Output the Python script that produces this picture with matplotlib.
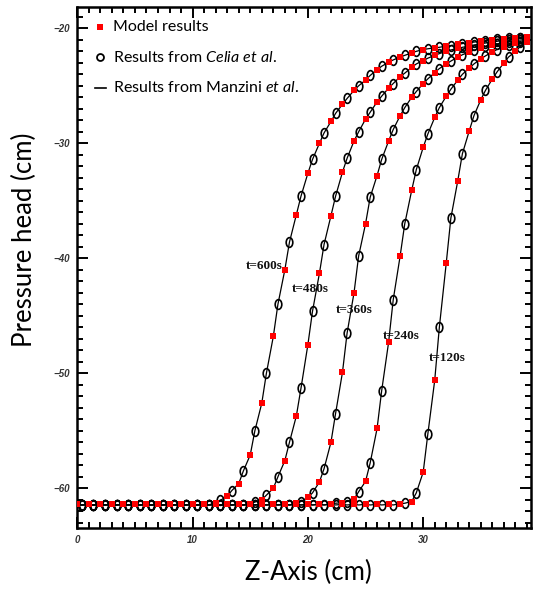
import matplotlib
matplotlib.use("Agg")
import matplotlib.pyplot as plt
import numpy as np
from matplotlib.path import Path

plt.rcParams['mathtext.fontset'] = 'custom'
plt.rcParams['mathtext.rm'] = 'Lato'
plt.rcParams['mathtext.it'] = 'Lato:italic'

# ---------------- data ----------------
z_model = list(range(40))                       # model result positions (cm)
z_celia = [i + 0.4 for i in range(39)]          # Celia et al. positions (cm)

times = ["t=600s", "t=480s", "t=360s", "t=240s", "t=120s"]

model_600 = [-61.4] * 12 + [-61.25, -60.7, -59.6, -57.1, -52.6, -46.8, -41.0, -36.2, -32.6, -30.0,
                            -28.1, -26.6, -25.4, -24.5, -23.6, -22.95, -22.5, -22.15, -21.85, -21.7,
                            -21.55, -21.4, -21.25, -21.12, -21.0, -20.9, -20.82, -20.75]
celia_600 = [-61.45] * 12 + [-61.05, -60.2, -58.5, -55.0, -50.0, -44.0, -38.6, -34.6, -31.4, -29.1,
                             -27.4, -26.1, -25.0, -24.1, -23.3, -22.75, -22.35, -22.0, -21.78, -21.65,
                             -21.5, -21.33, -21.2, -21.07, -20.95, -20.87, -20.8]

model_480 = [-61.4] * 15 + [-61.35, -61.0, -60.0, -57.6, -53.7, -47.5, -41.3, -36.3, -32.5, -29.8,
                            -27.9, -26.4, -25.2, -24.2, -23.4, -22.8, -22.35, -22.0, -21.75, -21.55,
                            -21.35, -21.2, -21.05, -20.92, -20.82]
celia_480 = [-61.45] * 15 + [-61.2, -60.6, -59.0, -56.0, -51.3, -44.6, -38.8, -34.6, -31.3, -29.0,
                             -27.3, -25.9, -24.8, -23.9, -23.1, -22.6, -22.2, -21.88, -21.65, -21.45,
                             -21.28, -21.13, -21.0, -20.88]

model_360 = [-61.4] * 19 + [-61.3, -60.8, -59.45, -56.0, -49.9, -43.0, -37.0, -32.8, -29.8, -27.6,
                            -26.0, -24.8, -23.85, -23.1, -22.5, -22.05, -21.7, -21.45, -21.25, -21.08,
                            -20.95]
celia_360 = [-61.45] * 19 + [-61.15, -60.4, -58.3, -53.5, -46.5, -39.8, -34.7, -31.4, -28.8, -26.9,
                             -25.5, -24.4, -23.5, -22.85, -22.3, -21.9, -21.58, -21.35, -21.17, -21.02]

model_240 = [-61.4] * 22 + [-61.35, -61.25, -60.95, -59.4, -54.8, -47.3, -39.8, -34.1, -30.35, -27.75,
                            -25.9, -24.5, -23.45, -22.65, -22.05, -21.6, -21.25, -21.0]
celia_240 = [-61.45] * 22 + [-61.3, -61.15, -60.3, -57.8, -51.5, -43.6, -37.0, -32.3, -29.2, -26.9,
                             -25.3, -24.0, -23.1, -22.4, -21.85, -21.45, -21.15]

model_120 = [-61.4] * 28 + [-61.35, -61.15, -58.6, -50.6, -40.4, -33.25, -28.9, -26.2, -24.4, -23.0,
                            -22.0, -21.2]
celia_120 = [-61.45] * 28 + [-61.3, -60.4, -55.3, -46.0, -36.5, -30.9, -27.6, -25.4, -23.8, -22.5,
                             -21.6]

model_series = [model_600, model_480, model_360, model_240, model_120]
celia_series = [celia_600, celia_480, celia_360, celia_240, celia_120]

# label anchor (data coords) for each time label
label_z = [16.25, 20.23, 24.06, 28.1, 32.08]
label_h = [-40.67, -42.7, -44.5, -46.76, -48.7]

x_ticks = [0, 10, 20, 30]
y_ticks = [-20, -30, -40, -50, -60]

# ---------------- figure ----------------
W, H = 533, 591
fig = plt.figure(figsize=(W / 100, H / 100), dpi=100)
ax_l, ax_r, ax_t, ax_b = 77.3, 531.0, 6.7, 528.3
ax = fig.add_axes([ax_l / W, 1 - ax_b / H, (ax_r - ax_l) / W, (ax_b - ax_t) / H])

circ = Path.unit_circle()
oval = Path(circ.vertices * np.array([0.68, 1.0]), circ.codes)

for m, c in zip(model_series, celia_series):
    pts = sorted(list(zip(z_model, m)) + list(zip(z_celia, c)))
    lx = [p[0] for p in pts]
    ly = [p[1] for p in pts]
    ax.plot(lx, ly, color='black', lw=0.9, zorder=2)
    ax.plot(z_celia, c, linestyle='none', marker=oval, markersize=7, mfc='none',
            mec='black', mew=1.2, zorder=3)
    ax.plot(z_model, m, linestyle='none', marker='s', markersize=4.3, color='#ff0000',
            mew=0, zorder=4)

for t, zx, hy in zip(times, label_z, label_h):
    ax.text(zx, hy, t, ha='center', va='center', fontsize=9.5, family='Liberation Serif',
            fontweight='bold', color='#111111', zorder=5)

ax.set_xlim(0, (ax_r - ax_l) / 11.53)
ax.set_ylim(-63.48, -18.12)
ax.set_xticks(x_ticks)
ax.set_yticks(y_ticks)
ax.set_xticks(np.arange(0, 40, 1), minor=True)
ax.set_yticks(np.arange(-63, -18, 1), minor=True)
ax.tick_params(which='both', direction='in', top=True, right=True, width=1.4, colors='black')
ax.tick_params(which='major', length=8, pad=5)
ax.tick_params(which='minor', length=4)
for lab in ax.get_xticklabels() + ax.get_yticklabels():
    lab.set_fontfamily('Liberation Sans')
    lab.set_fontstyle('italic')
    lab.set_fontweight('bold')
    lab.set_fontsize(7)
    lab.set_color('#333333')
for s in ax.spines.values():
    s.set_linewidth(1.8)

# legend (manual)
rows = [27, 57, 88]
mx = (100 - ax_l) / (ax_r - ax_l)
tx = (113 - ax_l) / (ax_r - ax_l)
def ay(py):
    return (ax_b - py) / (ax_b - ax_t)
ax.plot([mx], [ay(rows[0])], marker='s', markersize=4.5, color='#ff0000', mew=0,
        transform=ax.transAxes, clip_on=False)
ax.plot([mx], [ay(rows[1])], marker='o', markersize=5, mfc='none', mec='black', mew=1.3,
        transform=ax.transAxes, clip_on=False)
ax.plot([(95 - ax_l) / (ax_r - ax_l), (106 - ax_l) / (ax_r - ax_l)], [ay(rows[2])] * 2,
        color='black', lw=1.2, transform=ax.transAxes, clip_on=False)
leg_labels = ['Model results', r'Results from $\mathit{Celia\ et\ al.}$',
              r'Results from Manzini $\mathit{et\ al.}$']
for r, lab in zip(rows, leg_labels):
    ax.text(tx, ay(r), lab, transform=ax.transAxes, ha='left', va='center',
            fontsize=11.5, family='Lato', color='black')

fig.text(24.5 / W, 1 - 240 / H, 'Pressure head (cm)', rotation=90, ha='center', va='center',
         fontsize=18.5, family='Lato')
fig.text(308 / W, 1 - 572 / H, 'Z-Axis (cm)', ha='center', va='center',
         fontsize=18.5, family='Lato')

fig.savefig('out.png', dpi=100)
